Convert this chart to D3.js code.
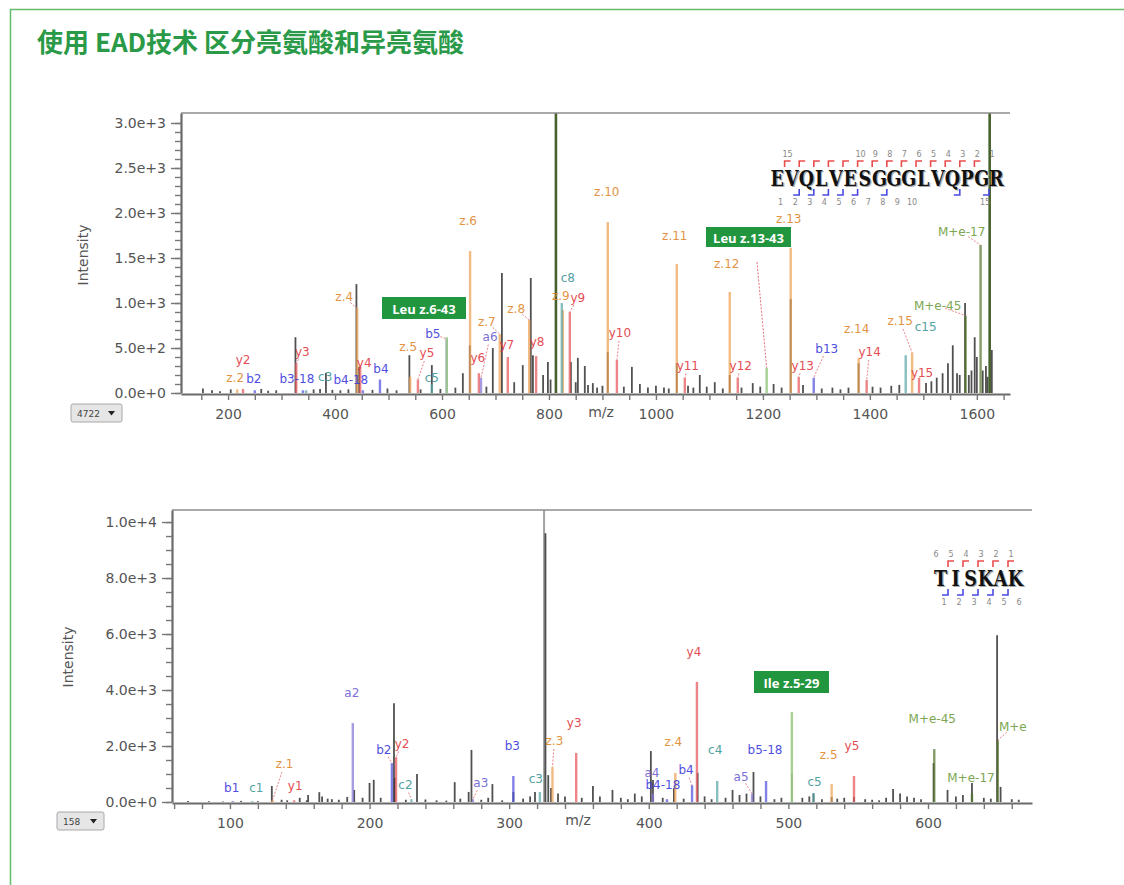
<!DOCTYPE html>
<html>
<head>
<meta charset="utf-8">
<script src="https://cdn.jsdelivr.net/npm/d3@7"></script>
<style>
  body { margin: 0; background: #fff; }
  text { font-family: "DejaVu Sans", Verdana, sans-serif; }
</style>
</head>
<body>
<svg id="chart" width="1124" height="885"></svg>
<script>
// ---------- data: top spectrum (EVQLVESGGGLVQPGR) ----------
const topZ = [[217, 40, "z.2"], [441.5, 940, "z.4"], [540.5, 180, "z.5"], [652.5, 1578, "z.6"], [708, 655, "z.7"],
  [763, 811, "z.8"], [826, 920, "z.9"], [910, 1900, "z.10"], [1039, 1433, "z.11"], [1138, 1122, "z.12"],
  [1252, 1611, "z.13"], [1379, 390, "z.14"], [1479, 450, "z.15"]];
const topY = [[228, 45, "y2"], [327.5, 330, "y3"], [447, 290, "y4"], [555, 150, "y5"], [669, 220, "y6"],
  [723, 400, "y7"], [776, 410, "y8"], [839, 900, "y9"], [927, 367, "y10"], [1054, 170, "y11"],
  [1153, 170, "y12"], [1267, 180, "y13"], [1394, 145, "y14"], [1492, 170, "y15"]];
const topB = [[250, 30, "b2"], [340, 30, "b3-18"], [452, 30, "b4-18"], [484, 150, "b4"], [609, 600, "b5"], [1295, 170, "b13"]];
const topA = [[673, 170, "a6"]];
const topC = [[346, 30, "c3"], [581, 100, "c5"], [824, 1000, "c8"], [1467, 420, "c15"]];
const topM = [[1579, 860, "M+e-45"], [1607, 1644, "M+e-17"]];
const topLight = [[609, 620], [1207, 280]];
const topBig = [[813, 3600], [1624, 3600]];
const topOther = [[153, 50], [326, 620], [383, 222], [440, 1210], [445, 290], [539, 420], [581, 310], [639, 220],
  [652, 530], [695, 500], [712, 1333], [751, 310], [766, 1278], [770, 420], [789, 200], [798, 345], [841, 345],
  [854, 390], [867, 300], [882, 110], [910, 455], [955, 290], [1039, 333], [1082, 200], [1110, 120], [1138, 200],
  [1181, 110], [1252, 1044], [1379, 330], [1536, 220], [1546, 330], [1555, 530], [1563, 220], [1568, 200],
  [1578, 1000], [1596, 620], [1600, 400], [1611, 250], [1628, 478],
  [170, 30], [185, 20], [205, 40], [262, 45], [275, 25], [290, 30], [360, 40], [372, 45], [395, 35], [410, 30],
  [425, 40], [470, 35], [498, 50], [515, 30], [560, 40], [597, 45], [625, 60], [683, 70], [735, 120], [803, 150],
  [850, 120], [873, 90], [890, 60], [900, 80], [940, 70], [970, 100], [985, 60], [1000, 80], [1015, 60], [1024, 50],
  [1060, 80], [1070, 60], [1095, 70], [1125, 50], [1160, 60], [1195, 70], [1220, 100], [1235, 60], [1275, 90],
  [1310, 50], [1330, 60], [1345, 40], [1360, 60], [1405, 70], [1420, 60], [1440, 80], [1455, 90], [1505, 110],
  [1515, 130], [1525, 170], [1585, 200], [1590, 250], [1617, 300], [1620, 180]];
const topYTicks = [0, 500, 1000, 1500, 2000, 2500, 3000];

// ---------- data: bottom spectrum (TISKAK) ----------
const botB = [[102, 30, "b1"], [216, 1390, "b2"], [303, 930, "b3"], [413, 100, "b4-18"], [431, 600, "b4"], [484, 750, "b5-18"]];
const botC = [[116, 30, "c1"], [230, 100, "c2"], [322, 360, "c3"], [449, 750, "c4"], [518, 320, "c5"]];
const botZ = [[130.5, 60, "z.1"], [331, 1250, "z.3"], [419, 1040, "z.4"], [531, 640, "z.5"]];
const botY = [[146, 60, "y1"], [219, 1600, "y2"], [348, 1750, "y3"], [434.5, 4290, "y4"], [547, 930, "y5"]];
const botA = [[188, 2820, "a2"], [274, 100, "a3"], [403, 300, "a4"], [474, 300, "a5"]];
const botM = [[604.5, 1890, "M+e-45"], [631.5, 300, "M+e-17"], [650, 2210, "M+e"]];
const botLight = [[502.5, 3210]];
const botMarker = [[325, 11000]];
const botOther = [[130, 570], [150, 150], [156, 250], [164, 350], [166, 200], [184, 180], [189, 430], [200, 680],
  [203, 790], [217.5, 3530], [218, 860], [234, 1000], [261, 710], [273, 1860], [271, 360], [288, 640], [303, 360],
  [318.5, 360], [326, 9600], [328, 960], [330, 500], [360, 570], [374, 430], [401.5, 1820], [403, 790], [418, 500],
  [435, 1040], [460, 430], [475, 1070], [502.5, 1000], [518, 300], [531, 180], [547, 180], [575, 460], [604, 1390],
  [614, 430], [631.5, 680], [649.5, 5960], [652, 540],
  [70, 40], [85, 30], [95, 20], [108, 40], [120, 30], [137, 80], [141, 60], [155, 60], [170, 120], [173, 100],
  [178, 80], [195, 150], [208, 150], [226, 80], [240, 90], [248, 60], [255, 50], [265, 120], [280, 80], [285, 150],
  [295, 60], [310, 120], [315, 200], [335, 300], [340, 200], [352, 150], [365, 200], [380, 150], [385, 100],
  [390, 300], [395, 200], [410, 150], [425, 120], [440, 200], [445, 100], [455, 150], [465, 250], [470, 300],
  [480, 200], [490, 100], [495, 150], [510, 150], [515, 200], [524, 100], [535, 120], [540, 150], [555, 100],
  [560, 80], [565, 60], [570, 150], [580, 300], [585, 200], [590, 150], [595, 100], [620, 200], [625, 250],
  [640, 150], [645, 120], [660, 100], [665, 80]];
const botYTicks = [0, 2000, 4000, 6000, 8000, 10000];

// peptide sequences and fragment coverage
const topSeq = "EVQLVESGGGLVQPGR";
const topYCuts = [1, 2, 3, 4, 5, 6, 7, 8, 9, 10, 11, 12, 13, 14];
const topYNums = [15, 10, 9, 8, 7, 6, 5, 4, 3, 2, 1];
const topBCuts = [2, 3, 4, 5, 6, 8, 13, 15];
const topBNums = [1, 2, 3, 4, 5, 6, 7, 8, 9, 10, 15];
const botSeq = "TISKAK";
const botYCuts = [1, 2, 3, 4, 5];
const botYNums = [6, 5, 4, 3, 2, 1];
const botBCuts = [1, 2, 3, 4, 5];
const botBNums = [1, 2, 3, 4, 5, 6];

// ---------- layout: label nudges [dx, dy, leader] in px from peak top ----------
const topNudge = {
  "z.2": [-2, -11], "y2": [0, -29], "b2": [-1, -11], "y3": [6, -11, 1], "b3-18": [-6, -11], "c3": [19, -13],
  "z.4": [-13, -11, 1], "y4": [4, -4], "b4-18": [-12, -10], "b4": [1, -10], "z.5": [-2, -30], "y5": [9, -26, 1],
  "c5": [0, -6], "b5": [-14, -5, 1], "y6": [-1, -15], "z.6": [-2, -30], "a6": [9, -41, 1], "z.7": [-13, -12, 1],
  "y7": [-1, -12], "z.8": [-13, -11, 1], "y8": [1, -14], "c8": [6, -25], "z.9": [-2, -14], "y9": [8, -14, 1],
  "z.10": [-1, -30], "y10": [3, -27, 1], "z.11": [-2, -28], "y11": [3, -12, 1], "z.12": [-3, -28], "y12": [3, -12, 1],
  "z.13": [-2, -29], "y13": [4, -11, 1], "b13": [13, -29, 1], "z.14": [-2, -29], "y14": [3, -28, 1],
  "c15": [20, -28], "z.15": [-12, -31, 1], "y15": [3, -5], "M+e-45": [-28, -10, 1], "M+e-17": [-19, -13, 1]
};
const botNudge = {
  "b1": [-1, -13], "c1": [4, -13], "z.1": [12, -36, 1], "y1": [1, -14], "a2": [-1, -30], "b2": [-8, -13, 1],
  "y2": [6, -13, 1], "c2": [-6, -14, 1], "a3": [8, -16, 1], "b3": [-1, -30], "c3": [-4, -13], "z.3": [2, -26, 1],
  "y3": [-2, -30], "a4": [-1, -21], "b4-18": [-4, -14], "z.4": [-2, -31], "b4": [-6, -15, 1], "y4": [-3, -30],
  "c4": [-2, -31], "a5": [-11, -17, 1], "b5-18": [-1, -31], "c5": [1, -11], "z.5": [-3, -29], "y5": [-2, -30],
  "M+e-45": [-2, -30], "M+e-17": [-1, -16], "M+e": [15, -13, 1]
};

const labelColor = { z: "#e0892f", y: "#e23a3f", b: "#3b3bdc", a: "#6e5fd0", c: "#3f9898", m: "#6f9d40" };
const peakColor = { z: "#eea256", y: "#e5565b", b: "#5252de", a: "#8777d8", c: "#5aa6a6", m: "#55762f" };

const svg = d3.select("#chart");

// page frame and heading
svg.append("path")
  .attr("d", "M10.5,885 V9.5 H1124")
  .attr("fill", "none")
  .attr("stroke", "#66bb6a")
  .attr("stroke-width", 1.5);

svg.append("text")
  .attr("x", 37)
  .attr("y", 52)
  .attr("fill", "#2a9a48")
  .style("font-family", "'Noto Sans CJK SC', 'Noto Sans', sans-serif")
  .style("font-weight", 700)
  .style("font-size", "26px")
  .text("使用 EAD技术 区分亮氨酸和异亮氨酸");

function drawSpectrum(opt) {
  const g = svg.append("g");
  const x = d3.scaleLinear().domain(opt.xDomain).range([opt.left, opt.right]);
  const y = d3.scaleLinear().domain(opt.yDomain).range([opt.base, opt.top]);

  g.append("clipPath").attr("id", opt.id)
    .append("rect")
    .attr("x", opt.left)
    .attr("y", opt.top)
    .attr("width", opt.right - opt.left)
    .attr("height", opt.base - opt.top);

  const plot = g.append("g").attr("clip-path", `url(#${opt.id})`);

  const sticks = (data, color, width, opacity) =>
    plot.append("g")
      .selectAll("line")
      .data(data)
      .join("line")
      .attr("x1", d => x(d[0]))
      .attr("x2", d => x(d[0]))
      .attr("y1", y(0))
      .attr("y2", d => y(d[1]))
      .attr("stroke", color)
      .attr("stroke-width", width)
      .attr("opacity", opacity);

  // black (unassigned) peaks first, coloured fragments on top
  if (opt.marker) sticks(opt.marker, "#9a9a9a", 2, 0.9);
  sticks(opt.other, "#333", 1.8, 0.85);
  Object.entries(opt.ions).forEach(([k, arr]) => sticks(arr, peakColor[k], 2.4, 0.72));
  sticks(opt.light, "#9fcc8a", 2.4, 0.9);
  if (opt.big) sticks(opt.big, "#3e5a22", 2.6, 0.95);

  // top frame line
  g.append("line")
    .attr("x1", opt.left).attr("x2", opt.right)
    .attr("y1", opt.top).attr("y2", opt.top)
    .attr("stroke", "#8c8c8c")
    .attr("stroke-width", 1.6);

  // x axis
  const xAxis = d3.axisBottom(x)
    .tickValues(d3.range(opt.xTicks[0], opt.xTicks[1] + 1, opt.xTicks[2]))
    .tickSize(6)
    .tickSizeOuter(0)
    .tickPadding(9)
    .tickFormat(d => (d % opt.xLabelStep === 0 ? d : ""));
  const xg = g.append("g").attr("transform", `translate(0,${opt.base + 1})`).call(xAxis);
  xg.select(".domain").attr("stroke", "#6a6a6a").attr("stroke-width", 2.2);
  xg.selectAll(".tick line").attr("stroke", "#777").attr("stroke-width", 1.4);
  xg.selectAll(".tick text").attr("fill", "#555").style("font-size", "14px");

  // y axis: minor then major ticks
  const yMinor = d3.axisLeft(y)
    .tickValues(d3.range(0, opt.yTicks[opt.yTicks.length - 1] + 1, opt.yMinorStep))
    .tickSize(6)
    .tickSizeOuter(0)
    .tickFormat("");
  const ym = g.append("g").attr("transform", `translate(${opt.left},0)`).call(yMinor);
  ym.select(".domain").attr("stroke", "#6a6a6a").attr("stroke-width", 2.2);
  ym.selectAll(".tick line").attr("stroke", "#777").attr("stroke-width", 1.4);

  const yAxis = d3.axisLeft(y)
    .tickValues(opt.yTicks)
    .tickSize(10)
    .tickSizeOuter(0)
    .tickPadding(5)
    .tickFormat(d3.format(".1e"));
  const ya = g.append("g").attr("transform", `translate(${opt.left},0)`).call(yAxis);
  ya.select(".domain").remove();
  ya.selectAll(".tick line").attr("stroke", "#777").attr("stroke-width", 1.4);
  ya.selectAll(".tick text").attr("fill", "#555").style("font-size", "14px");

  // axis titles
  g.append("text")
    .attr("x", opt.mzPos[0]).attr("y", opt.mzPos[1])
    .attr("text-anchor", "middle")
    .attr("fill", "#555")
    .style("font-size", "14px")
    .text("m/z");
  g.append("text")
    .attr("transform", `translate(${opt.intPos[0]},${opt.intPos[1]}) rotate(-90)`)
    .attr("text-anchor", "middle")
    .attr("fill", "#555")
    .style("font-size", "14px")
    .text("Intensity");

  // fragment labels with dotted leaders
  const labels = g.append("g");
  Object.entries(opt.ions).forEach(([k, arr]) => {
    arr.forEach(d => {
      const px = x(d[0]);
      const py = y(d[1]);
      const [dx, dy, lead] = opt.nudge[d[2]] || [0, -10, 0];
      const lx = px + dx;
      const ly = py + dy;
      if (lead) {
        const len = Math.hypot(dx, dy) || 1;
        labels.append("line")
          .attr("x1", lx - (dx / len) * 8)
          .attr("y1", ly - (dy / len) * 8)
          .attr("x2", px)
          .attr("y2", py)
          .attr("stroke", "#e8707a")
          .attr("stroke-width", 1)
          .attr("stroke-dasharray", "2,1.5")
          .attr("opacity", 0.85);
      }
      labels.append("text")
        .attr("x", lx)
        .attr("y", ly)
        .attr("text-anchor", "middle")
        .attr("dominant-baseline", "central")
        .attr("fill", labelColor[k])
        .attr("opacity", 0.9)
        .style("font-size", "12px")
        .text(d[2]);
    });
  });

  // highlighted diagnostic ion box
  opt.boxes.forEach(b => {
    if (b.leader) {
      const t = opt.light[b.leader.peak];
      g.append("line")
        .attr("x1", b.leader.from[0]).attr("y1", b.leader.from[1])
        .attr("x2", x(t[0])).attr("y2", y(t[1]))
        .attr("stroke", "#e8707a")
        .attr("stroke-width", 1)
        .attr("stroke-dasharray", "2,1.5");
    }
    g.append("rect")
      .attr("x", b.x).attr("y", b.y)
      .attr("width", b.w).attr("height", b.h)
      .attr("fill", "#22963f");
    g.append("text")
      .attr("x", b.x + b.w / 2)
      .attr("y", b.y + b.h / 2 + 1)
      .attr("text-anchor", "middle")
      .attr("dominant-baseline", "central")
      .attr("fill", "#fff")
      .style("font-family", "'Open Sans', 'Noto Sans', sans-serif")
      .style("font-weight", 700)
      .style("font-size", "13px")
      .text(b.text);
  });

  // scan selector widget
  const dd = g.append("g").attr("transform", `translate(${opt.drop.x},${opt.drop.y})`);
  dd.append("rect")
    .attr("width", opt.drop.w).attr("height", 18)
    .attr("rx", 2)
    .attr("fill", "#e6e6e6")
    .attr("stroke", "#a8a8a8");
  dd.append("text")
    .attr("x", 6).attr("y", 12.5)
    .attr("fill", "#444")
    .style("font-size", "9px")
    .text(opt.drop.text);
  dd.append("path")
    .attr("d", `M${opt.drop.w - 14},7 h7 l-3.5,4.5 z`)
    .attr("fill", "#222");

  drawPeptide(opt.pep);
}

function drawPeptide(p) {
  const g = svg.append("g");
  const n = p.seq.length;
  // serif letters squeezed into fixed cells
  p.seq.split("").forEach((ch, i) => {
    const cx = p.x0 + p.cw * (i + 0.5);
    [["#aaa", 1.2], ["#111", 0]].forEach(([fill, off]) => {
      g.append("text")
        .attr("transform", `translate(${cx + off},${p.baseY + off}) scale(0.8,1)`)
        .attr("text-anchor", "middle")
        .attr("fill", fill)
        .style("font-family", "'DejaVu Serif', 'Liberation Serif', serif")
        .style("font-weight", 700)
        .style("font-size", "22px")
        .text(ch);
    });
  });

  // y-ion cleavage brackets above
  g.selectAll(null).data(p.yCuts).join("path")
    .attr("d", k => `M${p.x0 + p.cw * k},${p.baseY - 19} V${p.baseY - 25} H${p.x0 + p.cw * k + 6}`)
    .attr("fill", "none")
    .attr("stroke", "#ea4c4c")
    .attr("stroke-width", 1.6);
  g.selectAll(null).data(p.yNums).join("text")
    .attr("x", num => p.x0 + p.cw * (n - num) + 3)
    .attr("y", p.baseY - 29)
    .attr("text-anchor", "middle")
    .attr("fill", "#888")
    .style("font-size", "8px")
    .text(num => num);

  // b-ion cleavage brackets below
  g.selectAll(null).data(p.bCuts).join("path")
    .attr("d", k => `M${p.x0 + p.cw * k - 6},${p.baseY + 9} H${p.x0 + p.cw * k} V${p.baseY + 3}`)
    .attr("fill", "none")
    .attr("stroke", "#4a4ae2")
    .attr("stroke-width", 1.6);
  g.selectAll(null).data(p.bNums).join("text")
    .attr("x", num => p.x0 + p.cw * num - 4)
    .attr("y", p.baseY + 19)
    .attr("text-anchor", "middle")
    .attr("fill", "#888")
    .style("font-size", "8px")
    .text(num => num);
}

drawSpectrum({
  id: "clip-top",
  left: 181, right: 1010, top: 113, base: 393,
  xDomain: [112, 1662], yDomain: [0, 3111],
  xTicks: [150, 1650, 50], xLabelStep: 200,
  yTicks: topYTicks, yMinorStep: 100,
  ions: { z: topZ, y: topY, b: topB, a: topA, c: topC, m: topM },
  other: topOther, light: topLight, big: topBig,
  nudge: topNudge,
  mzPos: [601, 417], intPos: [88, 255],
  boxes: [
    { text: "Leu z.6-43", x: 382, y: 297, w: 84, h: 22 },
    { text: "Leu z.13-43", x: 706, y: 227, w: 85, h: 20, leader: { from: [757, 262], peak: 1 } }
  ],
  drop: { x: 71, y: 404, w: 51, text: "4722" },
  pep: { seq: topSeq, x0: 770, cw: 14.6, baseY: 186, yCuts: topYCuts, yNums: topYNums, bCuts: topBCuts, bNums: topBNums }
});

drawSpectrum({
  id: "clip-bot",
  left: 172, right: 1032, top: 510, base: 802,
  xDomain: [58.5, 674.5], yDomain: [0, 10430],
  xTicks: [60, 660, 20], xLabelStep: 100,
  yTicks: botYTicks, yMinorStep: 500,
  ions: { z: botZ, y: botY, b: botB, a: botA, c: botC, m: botM },
  other: botOther, light: botLight, marker: botMarker,
  nudge: botNudge,
  mzPos: [578, 825], intPos: [73, 657],
  boxes: [
    { text: "Ile z.5-29", x: 754, y: 671, w: 75, h: 22 }
  ],
  drop: { x: 57, y: 812, w: 47, text: "158" },
  pep: { seq: botSeq, x0: 933, cw: 15, baseY: 586, yCuts: botYCuts, yNums: botYNums, bCuts: botBCuts, bNums: botBNums }
});
</script>
</body>
</html>
